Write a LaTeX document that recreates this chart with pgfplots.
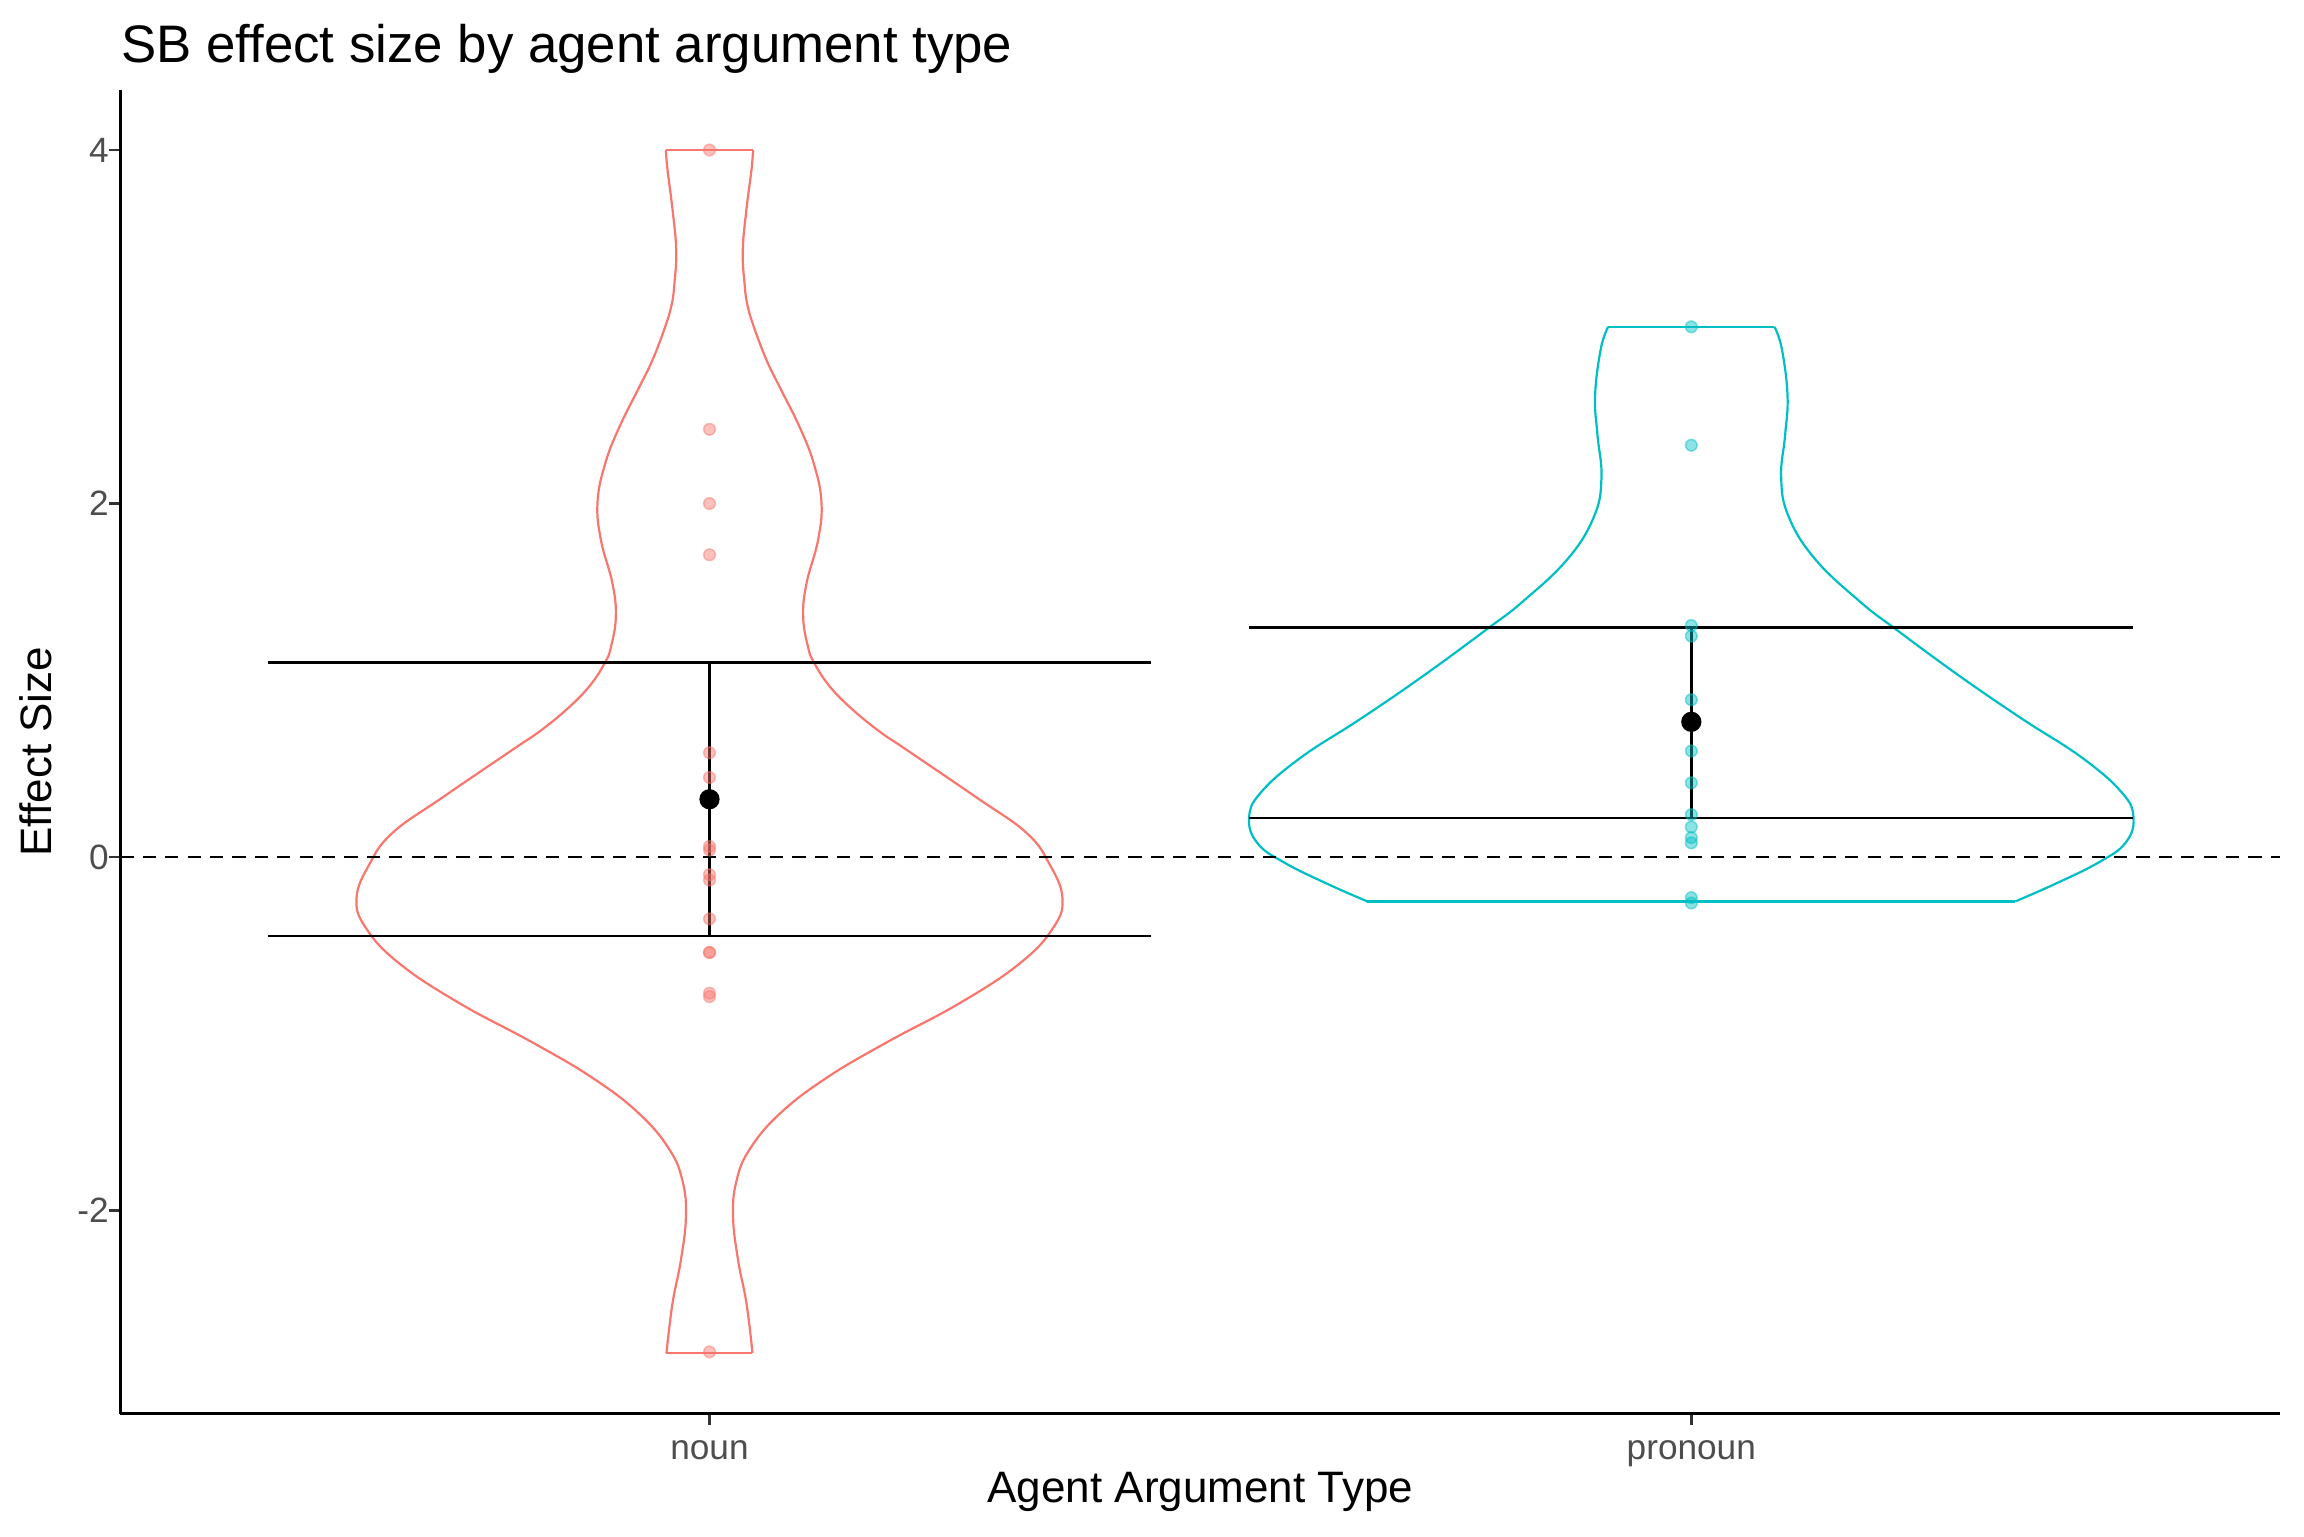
\documentclass[border=0pt]{standalone}
\usepackage{fontspec}
\setmainfont{Liberation Sans}
\usepackage{pgfplots}
\usepackage{pgfplotstable}
\pgfplotsset{compat=1.18}
\definecolor{nounc}{HTML}{F8766D}
\definecolor{pronc}{HTML}{00BFC4}
\definecolor{grey30}{HTML}{4D4D4D}
\definecolor{grey20}{HTML}{333333}

% violin outlines: y and half-width (x units)
\pgfplotstableread{
y hw
4.000 0.0444
3.890 0.0428
3.666 0.0377
3.434 0.0339
3.246 0.0357
3.114 0.0390
2.963 0.0475
2.800 0.0590
2.661 0.0713
2.434 0.0917
2.230 0.1060
2.011 0.1140
1.794 0.1106
1.548 0.0988
1.360 0.0954
1.190 0.1003
1.100 0.1065
0.965 0.1225
0.833 0.1460
0.709 0.1735
0.613 0.1990
0.337 0.2720
0.136 0.3230
-0.043 0.3466
-0.233 0.3595
-0.401 0.3500
-0.602 0.3160
-0.826 0.2550
-1.050 0.1800
-1.250 0.1190
-1.452 0.0716
-1.653 0.0410
-1.832 0.0275
-2.033 0.0240
-2.280 0.0291
-2.526 0.0377
-2.806 0.0438
}\nounviolin

\pgfplotstableread{
y hw
3.000 0.0847
2.875 0.0922
2.611 0.0980
2.390 0.0956
2.148 0.0915
1.928 0.0990
1.686 0.1260
1.444 0.1720
1.290 0.2080
1.025 0.2730
0.783 0.3366
0.563 0.3977
0.365 0.4385
0.222 0.4504
0.079 0.4420
-0.031 0.4147
-0.152 0.3706
-0.251 0.3300
}\pronviolin

\pgfplotstableread{
x y
1 4.00
1 2.42
1 2.00
1 1.71
1 0.59
1 0.45
1 0.06
1 0.04
1 -0.10
1 -0.13
1 -0.35
1 -0.54
1 -0.54
1 -0.77
1 -0.79
1 -2.80
}\nounpts

\pgfplotstableread{
x y
2 3.00
2 2.33
2 1.31
2 1.25
2 0.89
2 0.60
2 0.42
2 0.24
2 0.17
2 0.11
2 0.08
2 -0.23
2 -0.26
}\pronpts

\begin{document}
\begin{tikzpicture}
\path[use as bounding box] (-30.1pt,-30.6pt) rectangle (545.9pt,353.4pt);
\begin{axis}[
  scale only axis, width=540pt, height=331pt,
  xmin=0.4, xmax=2.6, ymin=-3.149, ymax=4.342,
  axis x line*=bottom, axis y line*=left,
  axis line style={line width=0.7pt, black, -},
  xtick={1,2}, xticklabels={noun,pronoun},
  ytick={-2,0,2,4}, yticklabels={-2,0,2,4},
  tick align=outside, major tick length=2.75pt,
  tick style={grey20, line width=0.7pt},
  ticklabel style={font=\fontsize{8.8}{10}\selectfont, text=grey30},
  yticklabel style={anchor=east, inner sep=0pt},
  xticklabel style={anchor=north, inner sep=0pt, yshift=-3.7pt},
  xlabel={Agent Argument Type}, ylabel={Effect Size},
  label style={font=\fontsize{11}{13}\selectfont},
  xlabel style={at={(axis description cs:0.5,0)}, anchor=base, yshift=-22.1pt, inner sep=0pt},
  ylabel style={at={(axis description cs:-0.0319,0.5)}, anchor=base, inner sep=0pt},
  title={SB effect size by agent argument type},
  title style={at={(axis description cs:0,1)}, anchor=base west, yshift=0.9pt, inner sep=0pt, font=\fontsize{13.2}{15}\selectfont},
  clip=false,
]
% violins
\addplot[nounc, line width=0.55pt, smooth, tension=0.7] table[x expr=1+\thisrow{hw}, y=y] {\nounviolin};
\addplot[nounc, line width=0.55pt, smooth, tension=0.7] table[x expr=1-\thisrow{hw}, y=y] {\nounviolin};
\addplot[nounc, line width=0.55pt] coordinates {(0.9556,4.0) (1.0444,4.0)};
\addplot[nounc, line width=0.55pt] coordinates {(0.9562,-2.806) (1.0438,-2.806)};
\addplot[pronc, line width=0.55pt, smooth, tension=0.7] table[x expr=2+\thisrow{hw}, y=y] {\pronviolin};
\addplot[pronc, line width=0.55pt, smooth, tension=0.7] table[x expr=2-\thisrow{hw}, y=y] {\pronviolin};
\addplot[pronc, line width=0.55pt] coordinates {(1.9153,3.0) (2.0847,3.0)};
\addplot[pronc, line width=0.55pt] coordinates {(1.67,-0.251) (2.33,-0.251)};
% points
\addplot[only marks, mark=*, mark size=1.45pt, mark options={fill=nounc, draw=nounc, opacity=0.45}] table[x=x, y=y] {\nounpts};
\addplot[only marks, mark=*, mark size=1.45pt, mark options={fill=pronc, draw=pronc, opacity=0.45}] table[x=x, y=y] {\pronpts};
% zero line
\addplot[black, line width=0.6pt, dash pattern=on 3.3pt off 2.3pt] coordinates {(0.4,0) (2.6,0)};
% error bars
\addplot[black, line width=0.65pt] coordinates {(1,-0.446) (1,1.100)};
\addplot[black, line width=0.65pt] coordinates {(0.55,1.100) (1.45,1.100)};
\addplot[black, line width=0.65pt] coordinates {(0.55,-0.446) (1.45,-0.446)};
\addplot[black, line width=0.65pt] coordinates {(2,0.222) (2,1.297)};
\addplot[black, line width=0.65pt] coordinates {(1.55,1.297) (2.45,1.297)};
\addplot[black, line width=0.65pt] coordinates {(1.55,0.222) (2.45,0.222)};
% means
\addplot[only marks, mark=*, mark size=2.33pt, mark options={fill=black, draw=black}] coordinates {(1,0.327) (2,0.765)};
\end{axis}
\end{tikzpicture}
\end{document}
